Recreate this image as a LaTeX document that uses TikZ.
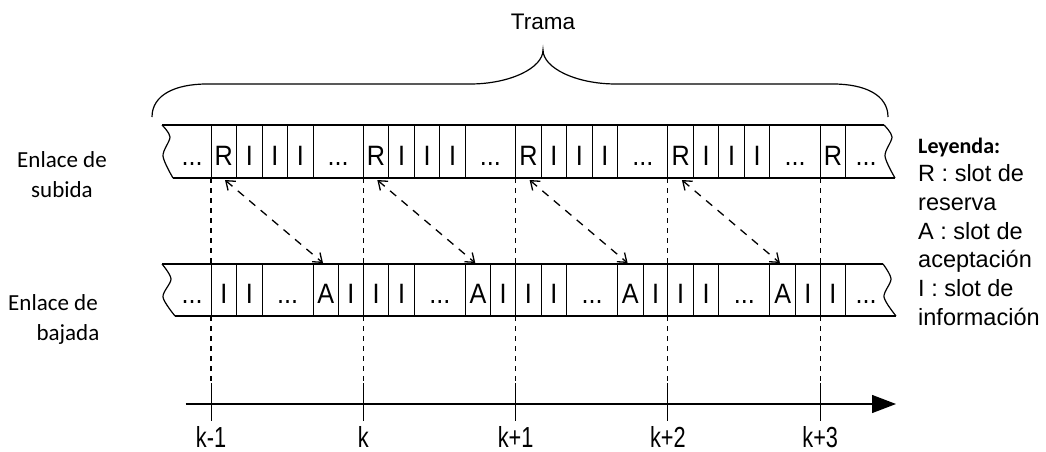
\documentclass[tikz,border=0pt]{standalone}
\usepackage{fontspec}
\setmainfont{Liberation Sans}
\newfontfamily\cellfont[FakeStretch=0.9]{Liberation Sans}
\newfontfamily\axfont[FakeStretch=0.75]{Liberation Sans}
\newfontfamily\calfont{Carlito}
\usetikzlibrary{arrows.meta}
\begin{document}
\begin{tikzpicture}[x=1pt,y=-1pt,
  strip/.style={line width=1.2pt},
  div/.style={line width=0.9pt},
  cell/.style={font=\cellfont\fontsize{28}{30}\selectfont, anchor=base, inner sep=0pt},
  kdash/.style={dash pattern=on 5pt off 5pt, line width=1.1pt},
  ktick/.style={line width=1pt},
  link/.style={dash pattern=on 8pt off 7pt, line width=1.3pt,
    {Straight Barb[length=8pt,width=12pt]}-{Straight Barb[length=8pt,width=12pt]}},
  side/.style={font=\calfont\fontsize{23}{26}\selectfont, anchor=base, inner sep=0pt},
  legend/.style={font=\fontsize{23.5}{26}\selectfont, anchor=base west, inner sep=0pt},
  axlab/.style={font=\axfont\fontsize{29}{31}\selectfont, anchor=base, inner sep=0pt}]
\useasboundingbox (0,0) rectangle (1046,452);
\def\P{152.3}
\def\c{25.5}

% brace and title
\draw[line width=1.2pt] (152,117) .. controls (152,95) and (175,84) .. (207,84)
  -- (470,84) .. controls (510,84) and (543,68) .. (543,50)
  .. controls (543,68) and (576,84) .. (616,84)
  -- (833,84) .. controls (865,84) and (888,95) .. (888,117);
\node[font=\fontsize{22.5}{25}\selectfont, anchor=base, inner sep=0pt] (trama) at (543,30) {Trama};

% upper strip
\draw[strip] plot[smooth] coordinates {(162,125) (170,137) (163,156) (173,178)};
\draw[strip] plot[smooth] coordinates {(884,125) (892,137) (885,156) (895,178)};
\draw[strip] (162,125) -- (884,125);
\draw[strip] (173,178) -- (895,178);
\foreach \j in {0,...,3}{
  \foreach \m in {0,...,4}{\draw[div] ({211+\j*\P+\m*\c},125) -- ++(0,53);}
  \node[cell] (ur\j) at ({211+\j*\P+0.5*\c},165) {R};
  \node[cell] (ui\j a) at ({211+\j*\P+1.5*\c},165) {I};
  \node[cell] (ui\j b) at ({211+\j*\P+2.5*\c},165) {I};
  \node[cell] (ui\j c) at ({211+\j*\P+3.5*\c},165) {I};
  \node[cell] (ud\j) at ({211+\j*\P+0.5*(\P+4*\c)},165) {...};
}
\draw[div] ({211+4*\P},125) -- ++(0,53);
\draw[div] ({211+4*\P+\c},125) -- ++(0,53);
\node[cell] (ur4) at ({211+4*\P+0.5*\c},165) {R};
\node[cell] (udl) at (192,165) {...};
\node[cell] (udr) at (866,165) {...};

% lower strip
\draw[strip] plot[smooth] coordinates {(162,264) (171,279) (163,297) (175,316)};
\draw[strip] plot[smooth] coordinates {(883,264) (891,279) (884,297) (896,316)};
\draw[strip] (162,264) -- (883,264);
\draw[strip] (175,316) -- (896,316);
\foreach \j in {0,...,3}{
  \foreach \m in {0,1,2,4,5}{\draw[div] ({211+\j*\P+\m*\c},264) -- ++(0,52);}
  \node[cell] (li\j a) at ({211+\j*\P+0.5*\c},303) {I};
  \node[cell] (li\j b) at ({211+\j*\P+1.5*\c},303) {I};
  \node[cell] (ld\j) at ({211+\j*\P+3*\c},303) {...};
  \node[cell] (la\j) at ({211+\j*\P+4.5*\c},303) {A};
  \node[cell] (li\j c) at ({211+\j*\P+0.5*(\P+5*\c)},303) {I};
}
\draw[div] ({211+4*\P},264) -- ++(0,52);
\draw[div] ({211+4*\P+\c},264) -- ++(0,52);
\node[cell] (li4) at ({211+4*\P+0.5*\c},303) {I};
\node[cell] (ldl) at (192,303) {...};
\node[cell] (ldr) at (866,303) {...};

% time lines
\foreach \j/\t in {0/k-1,1/k,2/k+1,3/k+2,4/k+3}{
  \coordinate (ka\j) at ({211+\j*\P},178);
  \coordinate (kb\j) at ({211+\j*\P},264);
  \coordinate (kc\j) at ({211+\j*\P},316);
  \coordinate (kd\j) at ({211+\j*\P},383);
  \coordinate (ke\j) at ({211+\j*\P},421);
  \draw[kdash] (ka\j) -- (kb\j);
  \draw[kdash] (kc\j) -- (kd\j);
  \draw[ktick] (kd\j) -- (ke\j);
  \node[axlab] (kl\j) at ({211+\j*\P},447) {\t};
}

% axis
\coordinate (axs) at (185.7,404);
\coordinate (axe) at (896,404);
\draw[line width=1.3pt, -{Triangle[length=24pt,width=18pt]}] (axs) -- (axe);

% request / acceptance links
\foreach \j in {0,...,3}{
  \coordinate (rs\j) at ({211+\j*\P+14},180);
  \coordinate (ae\j) at ({211+\j*\P+4*\c+10},263);
  \draw[link] (rs\j) -- (ae\j);
}

% side labels
\node[side] (s1) at (62,167) {Enlace de};
\node[side] (s2) at (62,197) {subida};
\node[side] (s3) at (53,310) {Enlace de};
\node[side] (s4) at (68,340) {bajada};

% legend
\node[font=\calfont\bfseries\fontsize{22}{24}\selectfont, anchor=base west, inner sep=0pt] (ley) at (918,153) {Leyenda:};
\node[legend] (l1) at (918,181.7) {R : slot de};
\node[legend] (l2) at (918,210.4) {reserva};
\node[legend] (l3) at (918,239.1) {A : slot de};
\node[legend] (l4) at (918,267.8) {aceptación};
\node[legend] (l5) at (918,296.5) {I : slot de};
\node[legend] (l6) at (918,325.2) {información};
\end{tikzpicture}
\end{document}
